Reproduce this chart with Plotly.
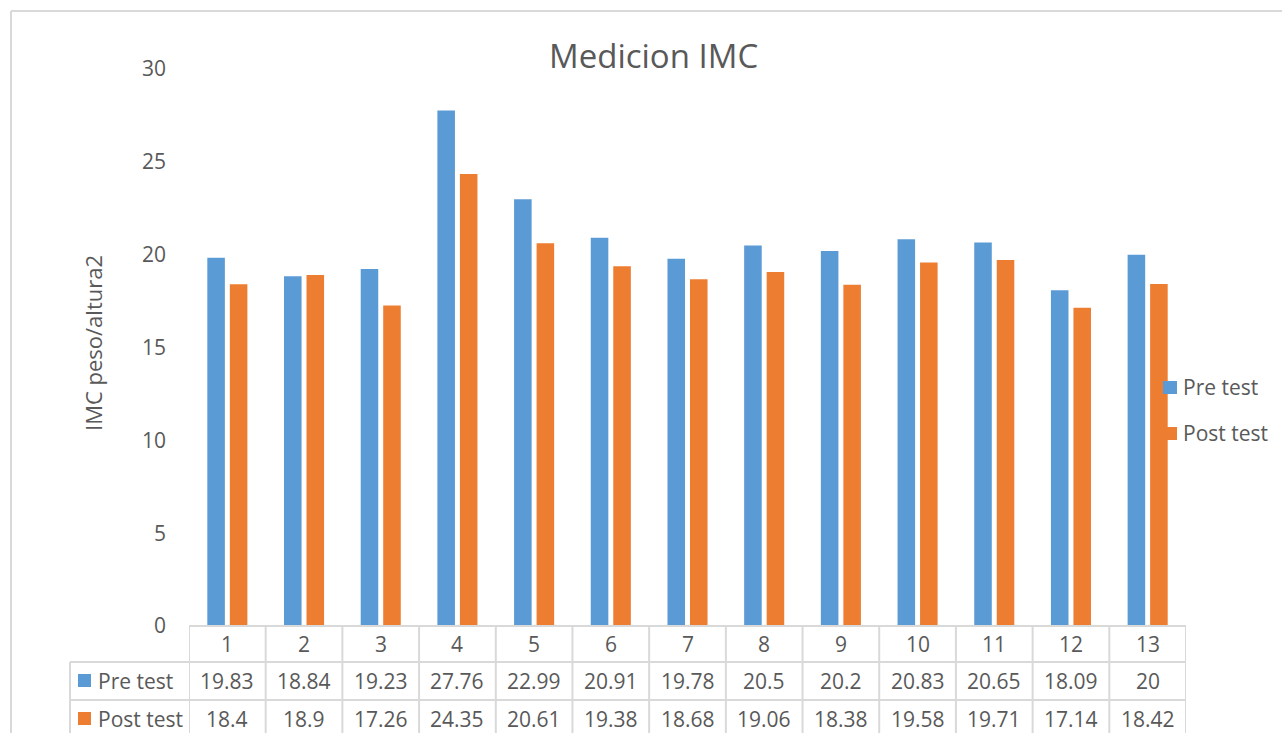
import plotly.graph_objects as go

# Data
categories = [str(i) for i in range(1, 14)]
pre_test = [19.83, 18.84, 19.23, 27.76, 22.99, 20.91, 19.78, 20.5, 20.2, 20.83, 20.65, 18.09, 20]
post_test = [18.4, 18.9, 17.26, 24.35, 20.61, 19.38, 18.68, 19.06, 18.38, 19.58, 19.71, 17.14, 18.42]
series_names = ["Pre test", "Post test"]
y_ticks = [0, 5, 10, 15, 20, 25, 30]

BLUE = "#5B9BD5"
ORANGE = "#ED7D31"
TEXT = "#595959"
GRID = "#D9D9D9"
FONT = "Open Sans"
FS = 21

W, H = 1282, 733
L, R, T, B = 189, 1186, 69, 626  # plot area in pixels


def px_x(px):
    return (px - L) / (R - L)


def px_y(py):
    return (B - py) / (B - T)


xpos = list(range(1, len(categories) + 1))

fig = go.Figure()
fig.add_trace(go.Bar(x=xpos, y=pre_test, name=series_names[0], marker_color=BLUE,
                     marker_line_width=0, showlegend=False))
fig.add_trace(go.Bar(x=xpos, y=post_test, name=series_names[1], marker_color=ORANGE,
                     marker_line_width=0, showlegend=False))

shapes = []
annotations = []


def label(x, y, text, xref="paper", xanchor="center", size=FS, angle=0):
    annotations.append(dict(x=x, y=y, xref=xref, yref="paper", text=text, showarrow=False,
                            xanchor=xanchor, yanchor="middle", textangle=angle,
                            font=dict(family=FONT, size=size, color=TEXT)))


# outer chart border (top and left edges)
shapes.append(dict(type="line", xref="paper", yref="paper", x0=px_x(11), x1=px_x(1300),
                   y0=px_y(11), y1=px_y(11), line=dict(color=GRID, width=2)))
shapes.append(dict(type="line", xref="paper", yref="paper", x0=px_x(11), x1=px_x(11),
                   y0=px_y(11), y1=px_y(760), line=dict(color=GRID, width=2)))

# data table grid
row_lines = [626, 662, 700, 738]
shapes.append(dict(type="line", xref="paper", yref="paper", x0=0, x1=1,
                   y0=px_y(row_lines[0]), y1=px_y(row_lines[0]), line=dict(color=GRID, width=2)))
for py in row_lines[1:3]:
    shapes.append(dict(type="line", xref="paper", yref="paper", x0=px_x(70), x1=1,
                       y0=px_y(py), y1=px_y(py), line=dict(color=GRID, width=2)))
shapes.append(dict(type="line", xref="paper", yref="paper", x0=px_x(70), x1=px_x(70),
                   y0=px_y(662), y1=px_y(760), line=dict(color=GRID, width=2)))
for i in range(len(categories) + 1):
    shapes.append(dict(type="line", xref="x", yref="paper", x0=i + 0.5, x1=i + 0.5,
                       y0=0, y1=px_y(760), line=dict(color=GRID, width=2)))

# table text: categories and values
row_centers = [644, 681, 719]
for xi, cat in zip(xpos, categories):
    label(xi, px_y(row_centers[0]), cat, xref="x")
for r, vals in enumerate([pre_test, post_test]):
    for xi, v in zip(xpos, vals):
        label(xi, px_y(row_centers[r + 1]), f"{v:g}", xref="x")

# table row headers with colour keys
for r, (name, col) in enumerate(zip(series_names, [BLUE, ORANGE])):
    cy = row_centers[r + 1]
    shapes.append(dict(type="rect", xref="paper", yref="paper", x0=px_x(78), x1=px_x(91),
                       y0=px_y(cy - 7), y1=px_y(cy + 6), fillcolor=col, line=dict(width=0)))
    label(px_x(96), px_y(cy), name, xanchor="left")

# side legend
for name, col, cy in zip(series_names, [BLUE, ORANGE], [387, 433]):
    shapes.append(dict(type="rect", xref="paper", yref="paper", x0=px_x(1163), x1=px_x(1177),
                       y0=px_y(cy - 6), y1=px_y(cy + 7), fillcolor=col, line=dict(width=0)))
    label(px_x(1181), px_y(cy), name, xanchor="left")

# title and y-axis title
label(px_x(653), px_y(56), "Medicion IMC", size=33)
label(px_x(93), px_y(343), "IMC peso/altura2", angle=-90, size=22)

fig.update_layout(
    width=W, height=H,
    margin=dict(l=L, r=W - R, t=T, b=H - B, pad=0),
    paper_bgcolor="white", plot_bgcolor="white",
    barmode="group", bargap=0.413, bargroupgap=0.22,
    shapes=shapes, annotations=annotations,
    xaxis=dict(range=[0.5, len(categories) + 0.5], showticklabels=False, showgrid=False,
               zeroline=False, showline=False, ticks=""),
    yaxis=dict(range=[0, 30], tickvals=y_ticks, showgrid=False, zeroline=False, showline=False,
               ticks="", ticklabelstandoff=22,
               tickfont=dict(family=FONT, size=FS, color=TEXT)),
)

fig.write_html("out.html")
